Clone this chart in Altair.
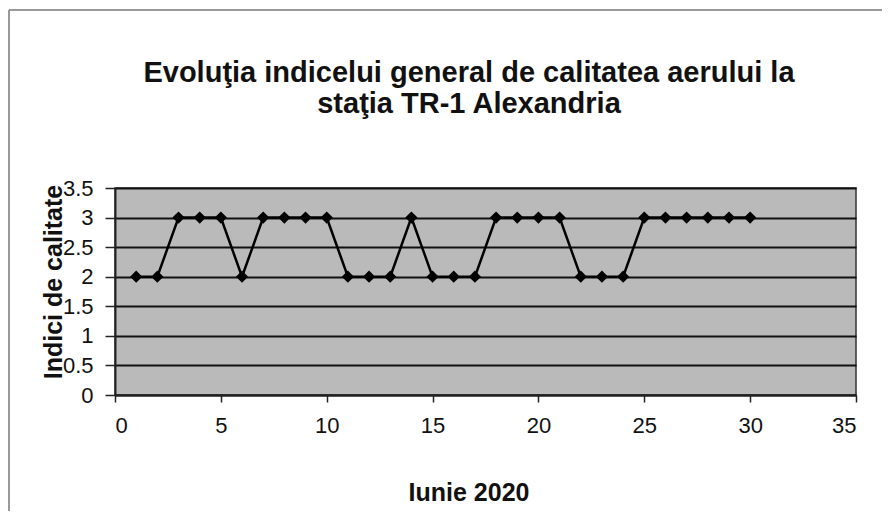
import altair as alt
import pandas as pd

days = list(range(1, 31))
values = [2, 2, 3, 3, 3, 2, 3, 3, 3, 3,
          2, 2, 2, 3, 2, 2, 2, 3, 3, 3,
          3, 2, 2, 2, 3, 3, 3, 3, 3, 3]
x_ticks = [0, 5, 10, 15, 20, 25, 30, 35]
y_ticks = [0, 0.5, 1, 1.5, 2, 2.5, 3, 3.5]
title_lines = ["Evoluţia indicelui general de calitatea aerului la", "staţia TR-1 Alexandria"]
x_title = "Iunie 2020"
y_title = "Indici de calitate"

df = pd.DataFrame({"zi": days, "indice": values})

W, H = 741, 207
PL, PT = 107, 180
PR = 890 - 16 - PL - W
PB = 519 - 16 - PT - H

FONT = "Liberation Sans"

xs = alt.Scale(domain=[0, 35], nice=False, zero=False)
ys = alt.Scale(domain=[0, 3.5], nice=False)

x_enc = alt.X("zi:Q", scale=xs,
              axis=alt.Axis(values=x_ticks, title=None, grid=False, labelOverlap=False,
                            labelFont=FONT, labelFontSize=22, labelColor="#111",
                            labelPadding=13, tickColor="#222", tickSize=7, tickWidth=1.5,
                            domainColor="#222", domainWidth=2))
y_enc = alt.Y("indice:Q", scale=ys,
              axis=alt.Axis(values=y_ticks, title=None, grid=True, labelOverlap=False,
                            labelExpr="datum.value",
                            gridColor="#111", gridWidth=2, gridOpacity=1,
                            labelFont=FONT, labelFontSize=22, labelColor="#111",
                            labelPadding=12, tickColor="#222", tickSize=10, tickWidth=1.5,
                            domainColor="#222", domainWidth=2))

base = alt.Chart(df).encode(x=x_enc, y=y_enc)

line = base.mark_line(color="black", strokeWidth=2.5)
points = base.mark_point(shape="diamond", filled=True, color="black", size=150, opacity=1)

frame = pd.DataFrame({"a": [0]})
fc = alt.Chart(frame)
left_border = fc.mark_rule(color="#777", strokeWidth=1.5).encode(
    x=alt.value(-PL + 1), y=alt.value(-PT + 2), y2=alt.value(H + PB + 10)
)
top_border = fc.mark_rule(color="#777", strokeWidth=1.5).encode(
    x=alt.value(-PL + 1), x2=alt.value(W + PR + 10), y=alt.value(-PT + 2)
)

title_style = dict(font=FONT, fontWeight="bold", color="#111", align="center", baseline="alphabetic")
t1 = fc.mark_text(text=title_lines[0], fontSize=29, **title_style).encode(
    x=alt.value(354), y=alt.value(-106))
t2 = fc.mark_text(text=title_lines[1], fontSize=29, **title_style).encode(
    x=alt.value(354), y=alt.value(-75))
xt = fc.mark_text(text=x_title, fontSize=25, **title_style).encode(
    x=alt.value(354), y=alt.value(313))
yt = fc.mark_text(text=y_title, fontSize=25, font=FONT, fontWeight="bold", color="#111",
                  align="center", baseline="middle", angle=270).encode(
    x=alt.value(-61), y=alt.value(94))

chart = alt.layer(line, points, left_border, top_border, t1, t2, xt, yt).properties(
    width=W, height=H,
    padding={"left": PL, "top": PT, "right": PR, "bottom": PB},
    autosize=alt.AutoSizeParams(type="none"),
    background="white",
).configure_view(fill="#bababa", stroke="#333", strokeWidth=1.5)

chart.save("out.html", embed_options={"renderer": "svg", "actions": False})
